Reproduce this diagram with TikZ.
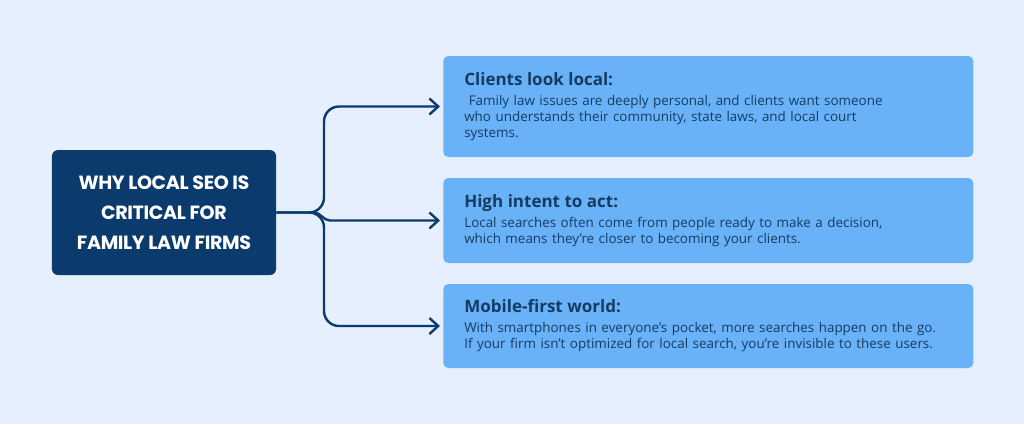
\documentclass[tikz,border=0pt]{standalone}
\usepackage{fontspec}
\setmainfont{Open Sans}
\newfontfamily\titlefont[LetterSpace=-2]{Poppins}
\usepackage{tikz}
\usetikzlibrary{arrows.meta}

\definecolor{pagebg}{HTML}{E5EFFD}
\definecolor{navy}{HTML}{0A3B6C}
\definecolor{skyblue}{HTML}{69B2F8}
\definecolor{inktext}{HTML}{143C62}

\begin{document}
\begin{tikzpicture}[
    x=0.25mm, y=-0.25mm,
    >={Straight Barb[length=2.2mm,width=4mm]},
    titlebox/.style={fill=navy, rounded corners=1.5mm, minimum width=56mm,
      minimum height=31.25mm, align=center, text=white,
      font=\titlefont\bfseries\fontsize{13.6}{21.3}\selectfont},
    reasonbox/.style={fill=skyblue, rounded corners=1.25mm, anchor=west,
      text width=122mm, inner xsep=5.25mm, align=left, text=inktext,
      font=\fontsize{9.55}{11.5}\selectfont},
    link/.style={->, draw=navy, line width=0.6mm, rounded corners=3.75mm},
  ]
  \fill[pagebg] (0,0) rectangle (1024,424);
  \useasboundingbox (0,0) rectangle (1024,424);

  %% ---- left title ---------------------------------------------------
  \node[titlebox] (seo) at (164,212.5)
    {WHY LOCAL SEO IS\\CRITICAL FOR\\FAMILY LAW FIRMS};

  %% ---- three reasons ------------------------------------------------
  \node[reasonbox, minimum height=25.25mm] (local) at (443,106.5)
    {{\bfseries\fontsize{12.1}{14}\selectfont Clients look local:}\\[2.5pt]
     \ Family law issues are deeply personal, and clients want someone\\
     who understands their community, state laws, and local court\\
     systems.};
  \node[reasonbox, minimum height=21.25mm] (intent) at (443,220.5)
    {{\bfseries\fontsize{12.1}{14}\selectfont High intent to act:}\\[2.5pt]
     Local searches often come from people ready to make a decision,\\
     which means they’re closer to becoming your clients.};
  \node[reasonbox, minimum height=21mm] (mobile) at (443,326)
    {{\bfseries\fontsize{12.1}{14}\selectfont Mobile-first world:}\\[2.5pt]
     With smartphones in everyone’s pocket, more searches happen on the go.\\
     If your firm isn’t optimized for local search, you’re invisible to these users.};

  %% ---- connectors ---------------------------------------------------
  \draw[link, shorten >=0.75mm] (seo.east) -- (324,212.5) -- (324,106.5) -- (local.west);
  \draw[link, shorten >=0.75mm] (seo.east) -- (324,212.5) -- (324,326) -- (mobile.west);
  \draw[->, draw=navy, line width=0.6mm, shorten >=0.75mm]
    (314,212.5) to[out=0,in=180] (330,220.5) -- (intent.west);
\end{tikzpicture}
\end{document}
